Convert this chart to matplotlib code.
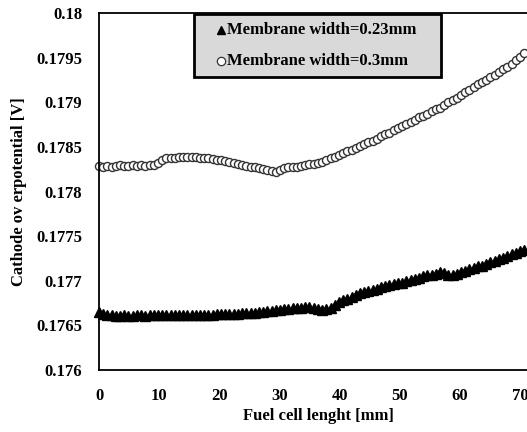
import numpy as np
import matplotlib
matplotlib.use("Agg")
import matplotlib.pyplot as plt
from matplotlib.lines import Line2D
from matplotlib.patches import Rectangle

# ---- data ----
x_mm = np.arange(102) * 0.7  # sampling positions along the cell [mm]

v_023 = [
    0.17665, 0.17663, 0.17662, 0.17662, 0.17661, 0.17661, 0.17662, 0.17661, 0.17661, 0.17662,
    0.17662, 0.17661, 0.17662, 0.17662, 0.17662, 0.17662, 0.17662, 0.17662, 0.17662, 0.17662,
    0.17662, 0.17662, 0.17662, 0.17662, 0.17662, 0.17662, 0.17662, 0.17662, 0.17663, 0.17663,
    0.17663, 0.17663, 0.17663, 0.17663, 0.17664, 0.17664, 0.17664, 0.17664, 0.17665, 0.17665,
    0.17666, 0.17666, 0.17667, 0.17667, 0.17668, 0.17668, 0.17669, 0.17669, 0.17670, 0.17671,
    0.17671, 0.17670, 0.17668, 0.17667, 0.17668, 0.17670, 0.17673, 0.17676, 0.17678, 0.17680,
    0.17682, 0.17684, 0.17686, 0.17687, 0.17689, 0.17690, 0.17691, 0.17693, 0.17694, 0.17695,
    0.17696, 0.17697, 0.17698, 0.17700, 0.17701, 0.17702, 0.17703, 0.17705, 0.17706, 0.17707,
    0.17708, 0.17710, 0.17709, 0.17706, 0.17706, 0.17708, 0.17710, 0.17711, 0.17713, 0.17714,
    0.17716, 0.17717, 0.17719, 0.17721, 0.17722, 0.17724, 0.17726, 0.17728, 0.17730, 0.17731,
    0.17733, 0.17735,
]

v_030 = [
    0.17829, 0.17828, 0.17829, 0.17828, 0.17829, 0.17830, 0.17829, 0.17829, 0.17830, 0.17829,
    0.17830, 0.17829, 0.17830, 0.17830, 0.17832, 0.17835, 0.17837, 0.17838, 0.17838, 0.17839,
    0.17839, 0.17839, 0.17839, 0.17839, 0.17838, 0.17838, 0.17837, 0.17836, 0.17835, 0.17835,
    0.17834, 0.17833, 0.17832, 0.17831, 0.17830, 0.17829, 0.17828, 0.17827, 0.17826, 0.17825,
    0.17824, 0.17823, 0.17822, 0.17824, 0.17826, 0.17827, 0.17828, 0.17828, 0.17829, 0.17830,
    0.17831, 0.17831, 0.17832, 0.17833, 0.17835, 0.17837, 0.17839, 0.17841, 0.17843, 0.17845,
    0.17847, 0.17849, 0.17851, 0.17853, 0.17855, 0.17857, 0.17859, 0.17862, 0.17864, 0.17866,
    0.17869, 0.17871, 0.17873, 0.17876, 0.17878, 0.17880, 0.17883, 0.17885, 0.17887, 0.17890,
    0.17892, 0.17894, 0.17897, 0.17900, 0.17902, 0.17905, 0.17908, 0.17911, 0.17914, 0.17917,
    0.17920, 0.17923, 0.17925, 0.17928, 0.17931, 0.17934, 0.17937, 0.17940, 0.17943, 0.17947,
    0.17951, 0.17955,
]

labels = ["Membrane width=0.23mm", "Membrane width=0.3mm"]
x_ticks = [0, 10, 20, 30, 40, 50, 60, 70]
y_ticks = [0.176, 0.1765, 0.177, 0.1775, 0.178, 0.1785, 0.179, 0.1795, 0.18]
y_ticklabels = ["0.176", "0.1765", "0.177", "0.1775", "0.178", "0.1785", "0.179", "0.1795", "0.18"]

# ---- figure ----
plt.rcParams['font.family'] = ['Liberation Serif', 'DejaVu Serif']
plt.rcParams['font.weight'] = 'bold'

W, H = 527, 432
fig = plt.figure(figsize=(W / 100, H / 100), dpi=100)
left, right_px, top, bottom = 99, 538, 13, 370
ax = fig.add_axes([left / W, 1 - bottom / H, (right_px - left) / W, (bottom - top) / H])

ax.plot(x_mm, v_023, linestyle='none', marker='^', markersize=6.5,
        color='black', markeredgecolor='black', label=labels[0], clip_on=False)
ax.plot(x_mm, v_030, linestyle='none', marker='o', markersize=5.8,
        markerfacecolor='white', markeredgecolor='#333333', markeredgewidth=1.0,
        label=labels[1], clip_on=False)

ax.set_xlim(0, 73)
ax.set_ylim(0.176, 0.18)
ax.set_xticks(x_ticks)
ax.set_yticks(y_ticks)
ax.set_yticklabels(y_ticklabels)
ax.tick_params(axis='both', length=0, labelsize=12)
ax.tick_params(axis='y', pad=12)
ax.tick_params(axis='x', pad=13)
for s in ['left', 'bottom', 'top', 'right']:
    ax.spines[s].set_linewidth(1.3)
    ax.spines[s].set_color('black')

ax.set_xlabel("Fuel cell lenght [mm]", fontsize=12, fontweight='bold', labelpad=3)
ax.set_ylabel("Cathode ov erpotential [V]", fontsize=12, fontweight='bold', labelpad=7)

# ---- legend box drawn in figure pixels ----
def fx(px):
    return px / W

def fy(py):
    return 1 - py / H

box = Rectangle((fx(194), fy(77)), fx(441) - fx(194), fy(14) - fy(77),
                transform=fig.transFigure, facecolor='#d9d9d9',
                edgecolor='black', linewidth=2, zorder=5)
fig.patches.append(box)
rows = [30, 61]
fig.lines.append(Line2D([fx(221)], [fy(rows[0])], transform=fig.transFigure,
                        linestyle='none', marker='^', markersize=6, color='black', zorder=6))
fig.lines.append(Line2D([fx(221)], [fy(rows[1])], transform=fig.transFigure,
                        linestyle='none', marker='o', markersize=6, markerfacecolor='white',
                        markeredgecolor='#333333', markeredgewidth=0.9, zorder=6))
for lab, r in zip(labels, rows):
    fig.text(fx(227), fy(r), lab, ha='left', va='center', fontsize=12,
             fontweight='bold', zorder=6)

fig.savefig("out.png", dpi=100)
